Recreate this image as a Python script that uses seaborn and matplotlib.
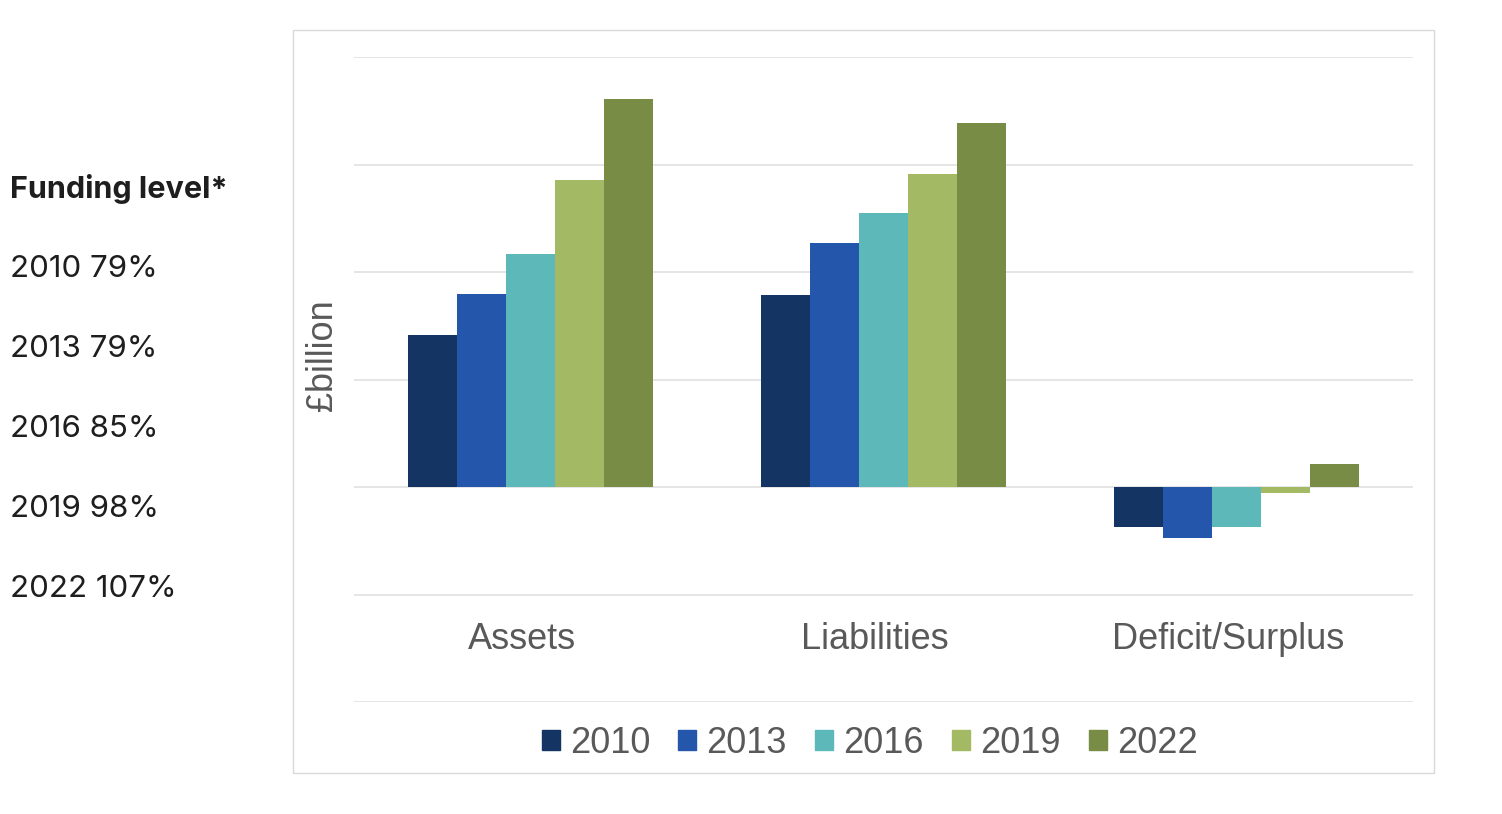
import matplotlib.pyplot as plt
import matplotlib.patches as mpatches
import pandas as pd
import seaborn as sns

# values (gridlines every 10)
categories = ['Assets', 'Liabilities', 'Deficit/Surplus']
years = ['2010', '2013', '2016', '2019', '2022']
assets = [14.1, 18.0, 21.7, 28.6, 36.1]
liabilities = [17.9, 22.7, 25.5, 29.1, 33.9]
deficit = [-3.7, -4.7, -3.75, -0.55, 2.1]
funding_years = ['2010', '2013', '2016', '2019', '2022']
funding_levels = ['79%', '79%', '85%', '98%', '107%']

colors = ['#143564', '#2457AB', '#5DB8B9', '#A3B963', '#788C45']

rows = []
for cat, vals in zip(categories, [assets, liabilities, deficit]):
    for yr, v in zip(years, vals):
        rows.append({'category': cat, 'year': yr, 'value': v})
df = pd.DataFrame(rows)

sns.set_style('white')
plt.rcParams['font.family'] = ['Liberation Sans', 'DejaVu Sans']

fig = plt.figure(figsize=(15.02, 8.14), dpi=100)
ax = fig.add_axes([354 / 1502, 1 - 702 / 814, 1059 / 1502, 645 / 814])

sns.barplot(data=df, x='category', y='value', hue='year', palette=colors,
            width=0.694, gap=0, saturation=1, ax=ax, legend=False,
            edgecolor='none', linewidth=0)

ax.set_xlim(-0.5, 2.5)
ax.set_ylim(-20, 40)
ax.set_yticks(range(-20, 41, 10))
ax.grid(axis='y', color='#E3E3E3', lw=1.3)
ax.set_axisbelow(True)
ax.tick_params(length=0, labelleft=False, labelbottom=False)
for s in ax.spines.values():
    s.set_visible(False)
ax.set_xlabel('')
ax.set_ylabel('£billion', fontsize=26, color='#595959')
ax.yaxis.set_label_coords(-0.013, 0.538)

for i, cat in enumerate(categories):
    ax.text(i - 0.025, -14.2, cat, ha='center', va='center', fontsize=26,
            color='#595959')

handles = [mpatches.Patch(color=c, label=y) for c, y in zip(colors, years)]
fig.legend(handles=handles, loc='center', bbox_to_anchor=(0.579, 0.087),
           ncol=5, frameon=False, fontsize=26, handlelength=0.5,
           handleheight=0.5, handletextpad=0.28, columnspacing=0.78,
           labelcolor='#595959')

# chart frame
fig.patches.append(mpatches.Rectangle((293 / 1502, 1 - 773 / 814), 1141 / 1502, 743 / 814,
                                      transform=fig.transFigure, fill=False,
                                      edgecolor='#D9D9D9', lw=1))

# funding level notes on the left
fig.text(10 / 1502, 1 - 189 / 814, 'Funding level*', family=['Inter', 'DejaVu Sans'],
         fontweight='bold', fontsize=22, color='#1E1E1E', va='center')
for k, (fy, fl) in enumerate(zip(funding_years, funding_levels)):
    fig.text(10 / 1502, 1 - (269 + 80 * k) / 814, f'{fy} {fl}',
             family=['Inter', 'DejaVu Sans'], fontsize=22.5, color='#1E1E1E', va='center')

fig.savefig('out.png', dpi=100)
